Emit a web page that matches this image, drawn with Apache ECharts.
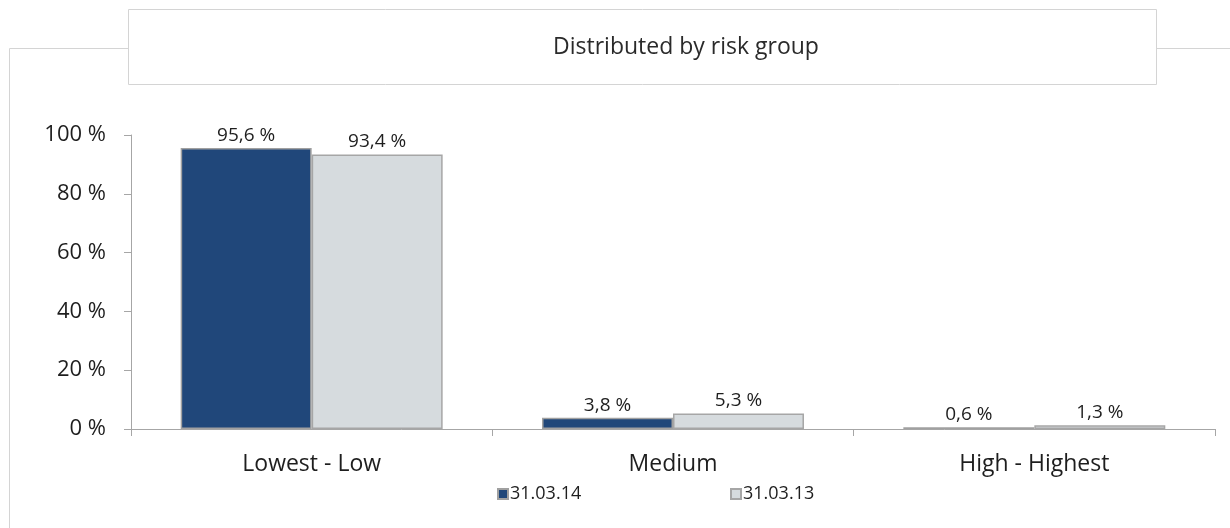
<!DOCTYPE html>
<html>
<head>
<meta charset="utf-8">
<script src="https://cdn.jsdelivr.net/npm/echarts@6/dist/echarts.min.js"></script>
<style>
  html, body { margin: 0; padding: 0; background: #fff; }
  #chart { width: 1230px; height: 528px; }
</style>
</head>
<body>
<div id="chart"></div>
<script>
// Risk groups and share of the portfolio per reporting date (percent)
const categories = ['Lowest - Low', 'Medium', 'High - Highest'];
const seriesNames = ['31.03.14', '31.03.13'];
const values2014 = [95.6, 3.8, 0.6];
const values2013 = [93.4, 5.3, 1.3];
const yTicks = [0, 20, 40, 60, 80, 100];

const FONT = '"Open Sans", "Noto Sans", sans-serif';
const pct = v => v.toFixed(1).replace('.', ',') + ' %';

const chart = echarts.init(document.getElementById('chart'), null, { renderer: 'canvas' });

const barLabel = {
  show: true,
  position: 'top',
  distance: 3,
  fontFamily: FONT,
  fontSize: 19,
  color: '#1e1e1e',
  formatter: p => pct(p.value)
};

chart.setOption({
  animation: false,
  backgroundColor: '#fff',
  graphic: [
    // outer frame around the chart
    { type: 'polyline', shape: { points: [[128, 48.5], [9.5, 48.5], [9.5, 540]] },
      style: { stroke: '#d4d4d4', lineWidth: 1, fill: null }, z: 0 },
    { type: 'line', shape: { x1: 1157, y1: 48.5, x2: 1230, y2: 48.5 },
      style: { stroke: '#d4d4d4', lineWidth: 1 }, z: 0 },
    // title box
    { type: 'rect', shape: { x: 128.5, y: 9.5, width: 1028, height: 75 },
      style: { fill: '#fff', stroke: '#d4d4d4', lineWidth: 1 }, z: 1 },
    { type: 'text', x: 686, y: 47, z: 2,
      style: { text: 'Distributed by risk group', fontFamily: '"Open Sans", sans-serif',
               fontSize: 23, fill: '#2a2a2a', align: 'center', verticalAlign: 'middle' } }
  ],
  legend: [
    { data: [seriesNames[0]], left: 492, top: 480, itemWidth: 10, itemHeight: 10, itemGap: 4,
      icon: 'rect', textStyle: { fontFamily: FONT, fontSize: 18, color: '#1e1e1e', padding: [0, 0, 0, -3] } },
    { data: [seriesNames[1]], left: 725, top: 480, itemWidth: 10, itemHeight: 10, itemGap: 4,
      icon: 'rect', textStyle: { fontFamily: FONT, fontSize: 18, color: '#1e1e1e', padding: [0, 0, 0, -3] } }
  ],
  grid: { left: 131, right: 15, top: 135, bottom: 99, containLabel: false },
  xAxis: {
    type: 'category',
    data: categories,
    axisLine: { lineStyle: { color: '#a6a6a6', width: 1 } },
    axisTick: { show: true, length: 7, lineStyle: { color: '#a6a6a6' } },
    axisLabel: { fontFamily: FONT, fontSize: 23, color: '#1e1e1e', margin: 24 }
  },
  yAxis: {
    type: 'value',
    min: yTicks[0],
    max: yTicks[yTicks.length - 1],
    interval: yTicks[1] - yTicks[0],
    axisLine: { show: true, lineStyle: { color: '#a6a6a6', width: 1 } },
    axisTick: { show: true, length: 7, lineStyle: { color: '#a6a6a6' } },
    splitLine: { show: false },
    axisLabel: { fontFamily: FONT, fontSize: 22, color: '#1e1e1e', margin: 25,
                 formatter: v => v + ' %' }
  },
  series: [
    { name: seriesNames[0], type: 'bar', data: values2014, barGap: '0%', barCategoryGap: '27.5%',
      itemStyle: { color: '#20477a', borderColor: '#a0a0a0', borderWidth: 1.5 },
      label: barLabel },
    { name: seriesNames[1], type: 'bar', data: values2013,
      itemStyle: { color: '#d6dbde', borderColor: '#a6a6a6', borderWidth: 1.5 },
      label: barLabel }
  ]
});
</script>
</body>
</html>
